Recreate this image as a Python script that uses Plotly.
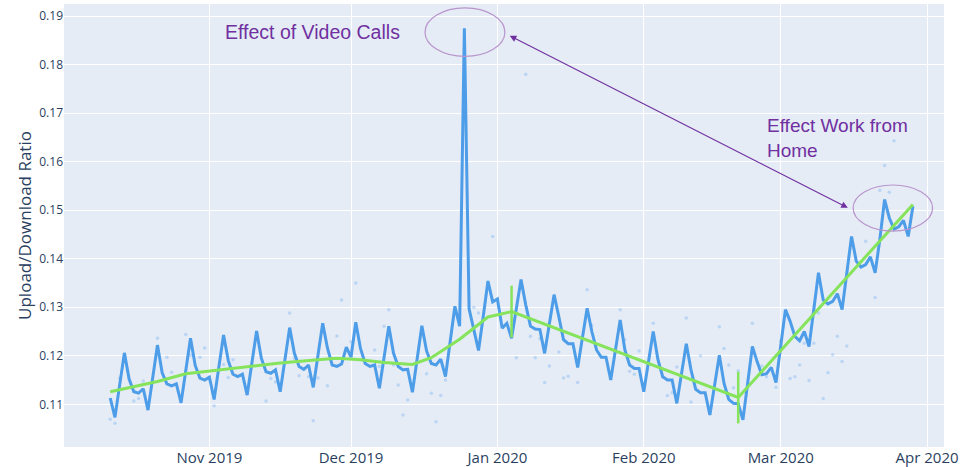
import pandas as pd
import plotly.graph_objects as go

# ---------------- data ----------------
start_date = "2019-10-11"
ratio_values = [
    0.1113, 0.1073, 0.1140,
    # weeks Mon..Sun
    0.1206, 0.1152, 0.1126, 0.1123, 0.1132, 0.1088, 0.1155,   # Oct 14
    0.1222, 0.1165, 0.1142, 0.1138, 0.1142, 0.1103, 0.1170,   # Oct 21
    0.1236, 0.1180, 0.1154, 0.1150, 0.1156, 0.1110, 0.1176,   # Oct 28
    0.1243, 0.1190, 0.1162, 0.1157, 0.1162, 0.1119, 0.1185,   # Nov 4
    0.1251, 0.1195, 0.1167, 0.1164, 0.1171, 0.1126, 0.1192,   # Nov 11
    0.1258, 0.1205, 0.1178, 0.1172, 0.1181, 0.1135, 0.1200,   # Nov 18
    0.1267, 0.1216, 0.1181, 0.1178, 0.1183, 0.1218, 0.1197,   # Nov 25
    0.1269, 0.1215, 0.1184, 0.1178, 0.1181, 0.1133, 0.1197,   # Dec 2
    0.1261, 0.1205, 0.1178, 0.1171, 0.1172, 0.1125, 0.1193,   # Dec 9
    0.1262, 0.1210, 0.1184, 0.1181, 0.1193, 0.1157, 0.1229,   # Dec 16
    0.1302, 0.1261, 0.1875, 0.1297, 0.1254, 0.1211, 0.1281,   # Dec 23
    0.1354, 0.1311, 0.1317, 0.1257, 0.1267, 0.1236, 0.1295,   # Dec 30
    0.1357, 0.1305, 0.1261, 0.1255, 0.1254, 0.1205, 0.1265,   # Jan 6
    0.1326, 0.1281, 0.1233, 0.1225, 0.1225, 0.1176, 0.1237,   # Jan 13
    0.1298, 0.1250, 0.1212, 0.1197, 0.1197, 0.1150, 0.1212,   # Jan 20
    0.1274, 0.1212, 0.1181, 0.1174, 0.1174, 0.1126, 0.1188,   # Jan 27
    0.1250, 0.1192, 0.1157, 0.1150, 0.1150, 0.1102, 0.1163,   # Feb 3
    0.1225, 0.1171, 0.1131, 0.1124, 0.1124, 0.1078, 0.1140,   # Feb 10
    0.1201, 0.1143, 0.1110, 0.1102, 0.1101, 0.1068, 0.1143,   # Feb 17
    0.1219, 0.1188, 0.1161, 0.1163, 0.1176, 0.1145, 0.1220,   # Feb 24
    0.1295, 0.1271, 0.1240, 0.1231, 0.1250, 0.1219, 0.1295,   # Mar 2
    0.1371, 0.1315, 0.1307, 0.1312, 0.1328, 0.1295, 0.1371,   # Mar 9
    0.1446, 0.1395, 0.1383, 0.1388, 0.1404, 0.1371, 0.1440,   # Mar 16
    0.1522, 0.1484, 0.1461, 0.1466, 0.1479, 0.1446, 0.1508,   # Mar 23
]
ratio_dates = pd.date_range(start_date, periods=len(ratio_values), freq="D")

trend_dates = ["2019-10-11", "2019-10-21", "2019-10-27", "2019-11-06", "2019-11-16",
               "2019-11-24", "2019-11-28", "2019-12-03", "2019-12-08", "2019-12-14",
               "2019-12-18", "2019-12-24", "2019-12-30", "2020-01-04", "2020-02-21",
               "2020-03-29"]
trend_values = [0.1126, 0.1147, 0.1163, 0.1174, 0.1185,
                0.1192, 0.1195, 0.1192, 0.1186, 0.1182,
                0.1196, 0.1234, 0.1280, 0.1291, 0.1114,
                0.1512]

changepoint_dates = ["2020-01-04", "2020-02-21"]
changepoint_values = [0.1291, 0.1114]

obs_dates = ["2019-10-11", "2019-10-12", "2019-10-13", "2019-10-16", "2019-10-17", "2019-10-18",
             "2019-10-21", "2019-10-23", "2019-10-24", "2019-10-27", "2019-10-28", "2019-10-30",
             "2019-10-31", "2019-11-02", "2019-11-04", "2019-11-05", "2019-11-06", "2019-11-13",
             "2019-11-14", "2019-11-15", "2019-11-18", "2019-11-19", "2019-11-20", "2019-11-22",
             "2019-11-23", "2019-11-24", "2019-11-26", "2019-11-28", "2019-11-29", "2019-12-01",
             "2019-12-02", "2019-12-06", "2019-12-07", "2019-12-08", "2019-12-09", "2019-12-10",
             "2019-12-11", "2019-12-12", "2019-12-13", "2019-12-17", "2019-12-18", "2019-12-19",
             "2019-12-20", "2019-12-21", "2019-12-27", "2019-12-28", "2019-12-31", "2020-01-05",
             "2020-01-07", "2020-01-08", "2020-01-09", "2020-01-10", "2020-01-11", "2020-01-12",
             "2020-01-14", "2020-01-15", "2020-01-16", "2020-01-18", "2020-01-20", "2020-01-21",
             "2020-01-27", "2020-01-28", "2020-01-29", "2020-01-30", "2020-01-31", "2020-02-03",
             "2020-02-05", "2020-02-06", "2020-02-07", "2020-02-08", "2020-02-10", "2020-02-11",
             "2020-02-13", "2020-02-17", "2020-02-18", "2020-02-19", "2020-02-20", "2020-02-21",
             "2020-02-24", "2020-02-26", "2020-02-27", "2020-02-29", "2020-03-01", "2020-03-03",
             "2020-03-04", "2020-03-05", "2020-03-06", "2020-03-07", "2020-03-08", "2020-03-09",
             "2020-03-10", "2020-03-11", "2020-03-12", "2020-03-13", "2020-03-14", "2020-03-15",
             "2020-03-19", "2020-03-21", "2020-03-22", "2020-03-23", "2020-03-24", "2020-03-25"]
obs_values = [0.1069, 0.1061, 0.1154, 0.1107, 0.1112, 0.1148,
              0.1236, 0.1197, 0.1166, 0.1244, 0.1201, 0.1197,
              0.1216, 0.1097, 0.1182, 0.1155, 0.1192, 0.1107,
              0.1153, 0.1146, 0.1288, 0.1195, 0.1159, 0.1157,
              0.1066, 0.1154, 0.1138, 0.1241, 0.1315, 0.1229,
              0.1350, 0.1212, 0.1178, 0.1261, 0.1295, 0.1181,
              0.1140, 0.1078, 0.1109, 0.1163, 0.1123, 0.1064,
              0.1118, 0.1150, 0.1300, 0.1288, 0.1446, 0.1196,
              0.1780, 0.1240, 0.1196, 0.1235, 0.1145, 0.1179,
              0.1208, 0.1154, 0.1158, 0.1145, 0.1336, 0.1263,
              0.1295, 0.1233, 0.1168, 0.1162, 0.1210, 0.1267,
              0.1156, 0.1118, 0.1124, 0.1177, 0.1278, 0.1105,
              0.1200, 0.1260, 0.1215, 0.1181, 0.1134, 0.1169,
              0.1267, 0.1179, 0.1157, 0.1135, 0.1231, 0.1153,
              0.1157, 0.1181, 0.1226, 0.1149, 0.1226, 0.1288,
              0.1112, 0.1165, 0.1202, 0.1240, 0.1188, 0.1220,
              0.1436, 0.1320, 0.1541, 0.1592, 0.1537, 0.1643]

x_tick_vals = ["2019-11-01", "2019-12-01", "2020-01-01", "2020-02-01", "2020-03-01", "2020-04-01"]
x_tick_text = ["Nov 2019", "Dec 2019", "Jan 2020", "Feb 2020", "Mar 2020", "Apr 2020"]
y_tick_vals = [0.11, 0.12, 0.13, 0.14, 0.15, 0.16, 0.17, 0.18, 0.19]
y_tick_text = ["0.11", "0.12", "0.13", "0.14", "0.15", "0.16", "0.17", "0.18", "0.19"]

# ---------------- styles ----------------
BLUE = "#4d9de9"
GREEN = "#86e35c"
PURPLE = "#7030a0"
ELLIPSE = "#b894cc"

fig = go.Figure()
fig.add_trace(go.Scatter(x=obs_dates, y=obs_values, mode="markers",
                         marker=dict(size=3.5, color="rgba(90,160,240,0.3)"),
                         showlegend=False, hoverinfo="skip"))
fig.add_trace(go.Scatter(x=ratio_dates, y=ratio_values, mode="lines",
                         line=dict(color=BLUE, width=3), showlegend=False))
fig.add_trace(go.Scatter(x=trend_dates, y=trend_values, mode="lines",
                         line=dict(color=GREEN, width=3), showlegend=False))
fig.add_trace(go.Scatter(x=changepoint_dates, y=changepoint_values, mode="markers",
                         marker=dict(symbol="line-ns-open", size=37, color=GREEN,
                                     line=dict(color=GREEN, width=2.5)),
                         showlegend=False))

# ellipses
fig.add_shape(type="circle", xref="x", yref="y",
              x0="2019-12-16 16:00", x1="2020-01-02 14:00", y0=0.1817, y1=0.1917,
              line=dict(color=ELLIPSE, width=1.2))
fig.add_shape(type="circle", xref="x", yref="y",
              x0="2020-03-16 08:00", x1="2020-04-02 04:00", y0=0.1457, y1=0.1552,
              line=dict(color=ELLIPSE, width=1.2))

# arrow (double headed)
fig.add_annotation(x="2020-03-15 05:00", y=0.1505, ax="2020-01-03 07:00", ay=0.1861,
                   xref="x", yref="y", axref="x", ayref="y", text="",
                   showarrow=True, arrowhead=2, startarrowhead=2, arrowside="end+start",
                   arrowsize=1.2, startarrowsize=1.2, arrowwidth=1.1, arrowcolor=PURPLE)

fig.add_annotation(x=0.2828, y=0.9368, xref="paper", yref="paper",
                   xanchor="center", yanchor="middle",
                   text="Effect of Video Calls", showarrow=False,
                   font=dict(family="Arial", size=19.5, color=PURPLE))
fig.add_annotation(x=0.797, y=0.6986, xref="paper", yref="paper",
                   xanchor="left", yanchor="middle",
                   align="left", text="Effect Work from<br>Home", showarrow=False,
                   font=dict(family="Arial", size=19, color=PURPLE))

fig.update_layout(
    width=978, height=467,
    margin=dict(l=64, r=34, t=4, b=20),
    plot_bgcolor="#E5ECF6", paper_bgcolor="white",
    showlegend=False,
    font=dict(family="Open Sans", color="#2a3f5f"),
)
fig.update_xaxes(range=["2019-10-01 05:00", "2020-04-04 14:00"],
                 tickvals=x_tick_vals, ticktext=x_tick_text, automargin=False,
                 tickfont=dict(size=15), gridcolor="white", gridwidth=1,
                 showline=False, zeroline=False)
fig.update_yaxes(range=[0.1012, 0.1925], tickvals=y_tick_vals, ticktext=y_tick_text,
                 tickfont=dict(size=12), gridcolor="white", gridwidth=1,
                 zeroline=False, automargin=False,
                 title=dict(text="Upload/Download Ratio", font=dict(size=17), standoff=3))

fig.write_html("out.html", config={"displayModeBar": False},
               post_script="document.body.style.margin='0';")
